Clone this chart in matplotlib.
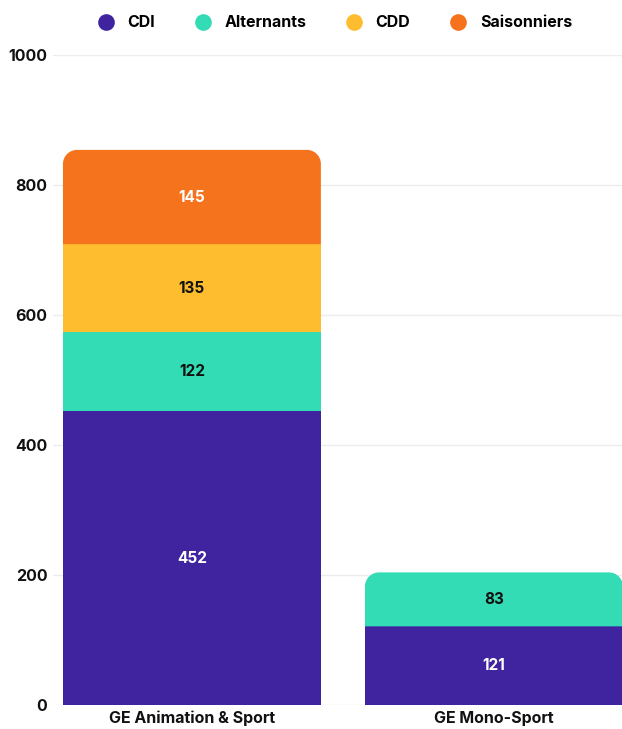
import numpy as np
import matplotlib.pyplot as plt
from matplotlib.path import Path
from matplotlib.patches import PathPatch
from matplotlib.lines import Line2D

plt.rcParams['font.family'] = ['Inter', 'DejaVu Sans']

categories = ['GE Animation & Sport', 'GE Mono-Sport']
series = ['CDI', 'Alternants', 'CDD', 'Saisonniers']
cdi = [452, 121]
alternants = [122, 83]
cdd = [135, 0]
saisonniers = [145, 0]
values = [cdi, alternants, cdd, saisonniers]
colors = ['#40249f', '#33dcb4', '#fdbd2f', '#f5731c']
text_colors = ['white', '#111111', '#111111', 'white']

fig = plt.figure(figsize=(6.22, 7.29), dpi=100)
ax = fig.add_axes([53 / 622, 24 / 729, 569 / 622, 650 / 729])

xlim = (-0.46, 1.424)
ylim = (0, 1000)
ax.set_xlim(*xlim)
ax.set_ylim(*ylim)

width = 0.854
# corner radius in data units (about 14 px)
px_x = 569 / (xlim[1] - xlim[0])
px_y = 650 / (ylim[1] - ylim[0])
rx = 14 / px_x
ry = 14 / px_y


def rounded_top(x0, y0, w, h):
    x1 = x0 + w
    y1 = y0 + h
    k = 0.5523
    verts = [(x0, y0), (x1, y0), (x1, y1 - ry),
             (x1, y1 - ry + k * ry), (x1 - rx + k * rx, y1), (x1 - rx, y1),
             (x0 + rx, y1),
             (x0 + rx - k * rx, y1), (x0, y1 - ry + k * ry), (x0, y1 - ry),
             (x0, y0)]
    codes = [Path.MOVETO, Path.LINETO, Path.LINETO,
             Path.CURVE4, Path.CURVE4, Path.CURVE4,
             Path.LINETO,
             Path.CURVE4, Path.CURVE4, Path.CURVE4,
             Path.CLOSEPOLY]
    return Path(verts, codes)


x = np.arange(len(categories))
for i in range(len(categories)):
    bottom = 0
    nonzero = [j for j in range(len(series)) if values[j][i] > 0]
    top_j = nonzero[-1]
    for j in range(len(series)):
        v = values[j][i]
        if v <= 0:
            continue
        if j == top_j:
            patch = PathPatch(rounded_top(x[i] - width / 2, bottom, width, v),
                              facecolor=colors[j], edgecolor='none', zorder=3)
            ax.add_patch(patch)
        else:
            ax.bar(x[i], v, width=width, bottom=bottom, color=colors[j],
                   edgecolor='none', zorder=3)
        ax.text(x[i], bottom + v / 2, str(v), ha='center', va='center',
                color=text_colors[j], fontsize=11, fontweight='bold', zorder=4)
        bottom += v

ax.set_yticks([0, 200, 400, 600, 800, 1000])
ax.set_xticks(x)
ax.set_xticklabels(categories)
ax.tick_params(length=0, labelsize=11.5, colors='#111111')
for lbl in ax.get_xticklabels() + ax.get_yticklabels():
    lbl.set_fontweight('bold')
ax.tick_params(axis='y', pad=4)
ax.tick_params(axis='x', pad=4)
ax.grid(axis='y', color='#ececec', linewidth=1, zorder=0)
for s in ax.spines.values():
    s.set_visible(False)

handles = [Line2D([], [], marker='o', linestyle='none', markersize=12,
                  markerfacecolor=c, markeredgecolor='none') for c in colors]
leg = fig.legend(handles, series, loc='center', bbox_to_anchor=(0.532, 0.969),
                 ncol=4, frameon=False, handletextpad=0.35, columnspacing=2.0,
                 prop={'weight': 'bold', 'size': 11.5})

fig.savefig('out.png', dpi=100)
